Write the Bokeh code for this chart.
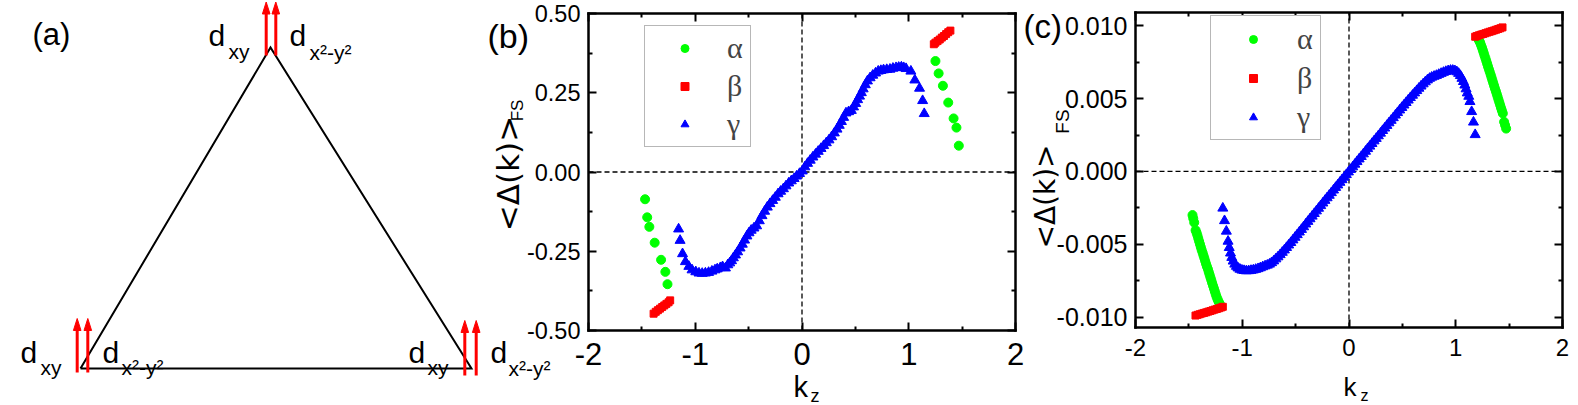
import math
from bokeh.plotting import figure
from bokeh.models import (Range1d, LinearAxis, FixedTicker, NumeralTickFormatter,
                          Label, Legend, LegendItem)
from bokeh.embed import file_html
from bokeh.resources import INLINE

# ---------------- data: panel (b) ----------------
alpha_b_kz = [-1.47, -1.45, -1.43, -1.38, -1.32, -1.28, -1.26,
              1.25, 1.28, 1.32, 1.37, 1.42, 1.447, 1.469]
alpha_b_gap = [-0.086, -0.143, -0.173, -0.223, -0.277, -0.315, -0.354,
               0.350, 0.311, 0.272, 0.219, 0.169, 0.140, 0.083]
beta_b_kz = [-1.39, -1.37, -1.35, -1.33, -1.31, -1.29, -1.27, -1.25, -1.235,
             1.235, 1.25, 1.27, 1.29, 1.31, 1.33, 1.35, 1.37, 1.39]
beta_b_gap = [-0.447, -0.441, -0.436, -0.431, -0.426, -0.421, -0.416, -0.411, -0.405,
              0.403, 0.408, 0.413, 0.418, 0.424, 0.429, 0.435, 0.441, 0.446]
gamma_b_kz = [-1.156, -1.142, -1.119, -1.092, -1.060, -1.030, -0.995, -0.965, -0.935, -0.905,
              -0.875, -0.844, -0.815, -0.794, -0.765, -0.744, -0.717, -0.695, -0.677, -0.660,
              -0.643, -0.623, -0.603, -0.580, -0.559, -0.538, -0.516, -0.496, -0.476, -0.450,
              -0.425, -0.400, -0.375, -0.350, -0.325, -0.300, -0.275, -0.250, -0.224, -0.200,
              -0.174, -0.150, -0.124, -0.100, -0.074, -0.050, -0.023, 0.003, 0.027, 0.052,
              0.077, 0.102, 0.127, 0.152, 0.178, 0.203, 0.228, 0.253, 0.278, 0.303,
              0.328, 0.349, 0.369, 0.390, 0.412, 0.437, 0.462, 0.483, 0.503, 0.521,
              0.539, 0.556, 0.573, 0.593, 0.613, 0.638, 0.663, 0.689, 0.714, 0.739,
              0.764, 0.794, 0.824, 0.852, 0.881, 0.906, 0.931, 0.953, 0.975, 1.020,
              1.057, 1.101, 1.130, 1.145]
gamma_b_gap = [-0.180, -0.216, -0.258, -0.283, -0.298, -0.309, -0.315, -0.319, -0.320, -0.319,
               -0.317, -0.313, -0.309, -0.306, -0.302, -0.299, -0.303, -0.293, -0.287, -0.280,
               -0.271, -0.262, -0.252, -0.240, -0.228, -0.215, -0.202, -0.192, -0.184, -0.177,
               -0.170, -0.154, -0.138, -0.124, -0.111, -0.100, -0.090, -0.080, -0.069, -0.061,
               -0.053, -0.044, -0.035, -0.028, -0.021, -0.013, -0.005, 0.003, 0.016, 0.027,
               0.037, 0.047, 0.056, 0.065, 0.074, 0.083, 0.092, 0.101, 0.111, 0.123,
               0.135, 0.147, 0.159, 0.172, 0.186, 0.190, 0.194, 0.205, 0.216, 0.228,
               0.239, 0.250, 0.262, 0.275, 0.287, 0.297, 0.305, 0.312, 0.318, 0.320,
               0.322, 0.323, 0.324, 0.327, 0.329, 0.330, 0.331, 0.329, 0.326, 0.318,
               0.290, 0.264, 0.225, 0.184]

# ---------------- data: panel (c) ----------------
alpha_c_kz = [-1.466, -1.459, -1.450, -1.437, -1.428, -1.420, -1.412, -1.404, -1.396, -1.388,
              -1.380, -1.371, -1.363, -1.355, -1.347, -1.339, -1.331, -1.322, -1.314, -1.306,
              -1.298, -1.290, -1.282, -1.273, -1.265, -1.257, -1.249, -1.241, -1.232, -1.224,
              -1.216, -1.208,
              1.212, 1.220, 1.228, 1.236, 1.245, 1.253, 1.261, 1.269, 1.278, 1.286,
              1.294, 1.302, 1.310, 1.318, 1.327, 1.335, 1.343, 1.351, 1.359, 1.367,
              1.376, 1.384, 1.392, 1.400, 1.408, 1.416, 1.424, 1.432, 1.441, 1.453,
              1.462, 1.472]
alpha_c_gap = [-0.00299, -0.00322, -0.00350, -0.00403, -0.00420, -0.00438, -0.00459, -0.00479, -0.00499, -0.00519,
               -0.00539, -0.00558, -0.00577, -0.00595, -0.00615, -0.00634, -0.00652, -0.00669, -0.00689, -0.00708,
               -0.00727, -0.00745, -0.00765, -0.00785, -0.00803, -0.00822, -0.00841, -0.00859, -0.00875, -0.00889,
               -0.00901, -0.00912,
               0.00907, 0.00896, 0.00884, 0.00868, 0.00851, 0.00833, 0.00815, 0.00796, 0.00777, 0.00758,
               0.00739, 0.00720, 0.00702, 0.00684, 0.00664, 0.00645, 0.00626, 0.00607, 0.00588, 0.00569,
               0.00550, 0.00531, 0.00512, 0.00493, 0.00474, 0.00455, 0.00436, 0.00418, 0.00398, 0.00340,
               0.00318, 0.00294]
beta_c_kz = [-1.438, -1.418, -1.398, -1.378, -1.358, -1.338, -1.318, -1.298, -1.278, -1.258,
             -1.238, -1.218, -1.198, -1.182,
             1.182, 1.198, 1.218, 1.238, 1.258, 1.278, 1.298, 1.318, 1.338, 1.358,
             1.378, 1.398, 1.418, 1.438]
beta_c_gap = [-0.00988, -0.00983, -0.00979, -0.00974, -0.00970, -0.00966, -0.00961, -0.00957, -0.00952, -0.00947,
              -0.00943, -0.00938, -0.00933, -0.00928,
              0.00924, 0.00929, 0.00934, 0.00939, 0.00943, 0.00948, 0.00953, 0.00958, 0.00962, 0.00967,
              0.00972, 0.00977, 0.00982, 0.00988]
gamma_c_kz_neg = [-1.182, -1.166, -1.149, -1.133, -1.122, -1.110, -1.098, -1.085, -1.070, -1.055,
                  -1.040, -1.022, -1.003, -0.983, -0.962, -0.940, -0.918, -0.896, -0.874, -0.852,
                  -0.830, -0.808, -0.786, -0.765, -0.745, -0.725, -0.705, -0.685, -0.665, -0.645,
                  -0.625, -0.605, -0.585, -0.565, -0.545, -0.525, -0.505, -0.485, -0.465, -0.445,
                  -0.425, -0.405, -0.385, -0.365, -0.345, -0.325, -0.305, -0.285, -0.265, -0.245,
                  -0.225, -0.205, -0.185, -0.165, -0.145, -0.125, -0.105, -0.085, -0.065, -0.045,
                  -0.025, -0.005]
gamma_c_gap_neg = [-0.00252, -0.00338, -0.00410, -0.00479, -0.00522, -0.00560, -0.00590, -0.00615, -0.00636, -0.00651,
                   -0.00662, -0.00671, -0.00677, -0.00680, -0.00682, -0.00681, -0.00679, -0.00676, -0.00672, -0.00667,
                   -0.00661, -0.00654, -0.00648, -0.00643, -0.00636, -0.00626, -0.00614, -0.00600, -0.00586, -0.00571,
                   -0.00555, -0.00539, -0.00522, -0.00505, -0.00488, -0.00470, -0.00452, -0.00434, -0.00416, -0.00398,
                   -0.00380, -0.00361, -0.00343, -0.00325, -0.00307, -0.00289, -0.00271, -0.00253, -0.00235, -0.00217,
                   -0.00199, -0.00181, -0.00164, -0.00146, -0.00128, -0.00110, -0.00093, -0.00075, -0.00057, -0.00040,
                   -0.00022, -0.00004]
gamma_c_kz_pos = [0.015, 0.035, 0.055, 0.075, 0.095, 0.115, 0.135, 0.155, 0.175, 0.195,
                  0.215, 0.235, 0.255, 0.275, 0.295, 0.315, 0.335, 0.355, 0.375, 0.395,
                  0.415, 0.435, 0.455, 0.475, 0.495, 0.515, 0.535, 0.555, 0.575, 0.595,
                  0.615, 0.635, 0.655, 0.675, 0.695, 0.715, 0.735, 0.755, 0.775, 0.797,
                  0.819, 0.841, 0.863, 0.885, 0.907, 0.929, 0.951, 0.972, 0.992, 1.010,
                  1.027, 1.043, 1.058, 1.072, 1.085, 1.097, 1.108, 1.122, 1.133, 1.149,
                  1.166, 1.182]
gamma_c_gap_pos = [0.00013, 0.00031, 0.00049, 0.00067, 0.00085, 0.00102, 0.00120, 0.00138, 0.00156, 0.00173,
                   0.00191, 0.00209, 0.00226, 0.00244, 0.00262, 0.00280, 0.00297, 0.00315, 0.00333, 0.00350,
                   0.00368, 0.00386, 0.00403, 0.00421, 0.00438, 0.00455, 0.00472, 0.00489, 0.00506, 0.00522,
                   0.00538, 0.00554, 0.00570, 0.00585, 0.00600, 0.00614, 0.00627, 0.00638, 0.00646, 0.00652,
                   0.00658, 0.00665, 0.00672, 0.00679, 0.00685, 0.00690, 0.00693, 0.00693, 0.00690, 0.00683,
                   0.00672, 0.00657, 0.00638, 0.00616, 0.00592, 0.00566, 0.00538, 0.00515, 0.00479, 0.00410,
                   0.00338, 0.00252]
gamma_c_kz = gamma_c_kz_neg + gamma_c_kz_pos
gamma_c_gap = gamma_c_gap_neg + gamma_c_gap_pos

series_labels = ["\u03b1", "\u03b2", "\u03b3"]
series_colors = ["#00FF00", "#FF0000", "#0000FF"]
series_markers = ["circle", "square", "triangle"]

# axis limits and ticks
b_xlim, b_ylim = (-2, 2), (-0.5, 0.5)
c_xlim, c_ylim = (-2, 2), (-0.0107, 0.0109)
x_major, x_minor = [-2, -1, 0, 1, 2], [-1.5, -0.5, 0.5, 1.5]
b_y_major, b_y_minor = [-0.5, -0.25, 0, 0.25, 0.5], [-0.375, -0.125, 0.125, 0.375]
c_y_major, c_y_minor = [-0.01, -0.005, 0, 0.005, 0.01], [-0.0075, -0.0025, 0.0025, 0.0075]

# ---------------- layout (page pixels) ----------------
X0, X1, Y0, Y1 = 0, 1578, 0, 405          # drawable page area
B_BOX = (588, 1015, 13, 330)              # left, right, top, bottom of panel (b)
C_BOX = (1135, 1562, 12, 327)             # panel (c)

# schematic (a)
triangle_x = [80, 270, 471, 80]
triangle_y = [368, 47, 368, 368]
arrow_x = [265.7, 275.3, 76.7, 87.3, 464.3, 475.7]
arrow_base_y = [55, 55, 372, 372, 375, 375]
arrow_tip_y = [1.5, 1.5, 318, 318, 320, 320]
HEAD_LEN, HEAD_HALF = 12, 3.8

FONT = "Liberation Sans"
SERIF = "Liberation Serif"


def xrange_for(lim, box):
    s = (lim[1] - lim[0]) / (box[1] - box[0])
    return Range1d(lim[0] - (box[0] - X0) * s, lim[1] + (X1 - box[1]) * s)


def yrange_for(lim, box):
    s = (lim[1] - lim[0]) / (box[3] - box[2])
    return Range1d(lim[0] - (Y1 - box[3]) * s, lim[1] + (box[2] - Y0) * s)


p = figure(width=X1 - X0, height=Y1 - Y0, x_range=Range1d(X0, X1), y_range=Range1d(Y1, Y0),
           min_border=0, toolbar_location=None, output_backend="svg",
           x_axis_location=None, y_axis_location=None, outline_line_color=None)
p.grid.visible = False
p.extra_x_ranges = {"xb": xrange_for(b_xlim, B_BOX), "xc": xrange_for(c_xlim, C_BOX)}
p.extra_y_ranges = {"yb": yrange_for(b_ylim, B_BOX), "yc": yrange_for(c_ylim, C_BOX)}

# ---------------- panel (a) ----------------
p.line(triangle_x, triangle_y, line_color="black", line_width=2, line_join="miter")
p.segment(x0=arrow_x, y0=arrow_base_y, x1=arrow_x, y1=[t + HEAD_LEN - 1 for t in arrow_tip_y],
          line_color="red", line_width=3)
p.patches(xs=[[x - HEAD_HALF, x, x + HEAD_HALF] for x in arrow_x],
          ys=[[t + HEAD_LEN, t, t + HEAD_LEN] for t in arrow_tip_y],
          fill_color="red", line_color="red", line_width=1)

texts = [  # text, left x, baseline y, size
    ("(a)", 32, 34, 31),
    ("d", 208, 35, 30), ("xy", 228, 51, 21),
    ("d", 289, 35, 30), ("x\u00b2-y\u00b2", 309, 52, 21),
    ("d", 20, 352, 30), ("xy", 40, 367, 21),
    ("d", 102, 352, 30), ("x\u00b2-y\u00b2", 121, 367, 21),
    ("d", 408, 352, 30), ("xy", 427, 367, 21),
    ("d", 490, 352, 30), ("x\u00b2-y\u00b2", 508, 368, 21),
    ("(b)", 487, 35, 34), ("k", 793, 386, 29), ("z", 810, 395, 18),
    ("(c)", 1023, 26, 33), ("k", 1343, 386, 26), ("z", 1360, 395, 16),
]
for t, x, y, s in texts:
    p.add_layout(Label(x=x, y=y, text=t, text_font=FONT, text_font_size=f"{s}px",
                       text_align="left", text_baseline="alphabetic", text_color="black"))

rot_texts = [  # text, center x, center y, size, font
    ("<\u0394(k)>", 507, 173, 31, "DejaVu Sans"), ("FS", 517, 110, 17, FONT),
    ("<\u0394(k)>", 1045, 196, 28, "DejaVu Sans"), ("FS", 1062, 121, 19, FONT),
]
for t, x, y, s, f in rot_texts:
    p.add_layout(Label(x=x, y=y, text=t, angle=math.pi / 2, text_font=f, text_font_size=f"{s}px",
                       text_align="center", text_baseline="middle", text_color="black"))


def add_axes(xr, yr, xlim, ylim, ymaj, ymin, yfmt, xsize, ysize, xstand, ystand):
    xt = FixedTicker(ticks=x_major, minor_ticks=x_minor)
    yt = FixedTicker(ticks=ymaj, minor_ticks=ymin)
    specs = [("below", ylim[0], xlim, xt, "0", xsize, xstand, True),
             ("above", ylim[1], xlim, xt, "0", xsize, xstand, False),
             ("left", xlim[0], ylim, yt, yfmt, ysize, ystand, True),
             ("right", xlim[1], ylim, yt, yfmt, ysize, ystand, False)]
    for side, loc, bnds, tk, fmt, size, stand, show in specs:
        ax = LinearAxis(x_range_name=xr, y_range_name=yr, fixed_location=loc, bounds=bnds,
                        ticker=tk, formatter=NumeralTickFormatter(format=fmt),
                        major_tick_in=8, major_tick_out=0, minor_tick_in=4, minor_tick_out=0,
                        axis_line_width=2.5, axis_line_color="black", axis_line_cap="square",
                        major_tick_line_width=2, minor_tick_line_width=2,
                        major_tick_line_color="black", minor_tick_line_color="black",
                        major_label_text_font=FONT, major_label_text_font_size=f"{size}px",
                        major_label_standoff=stand,
                        major_label_text_color="black" if show else None)
        p.add_layout(ax, side)
    # dashed zero lines
    p.segment(x0=[0, xlim[0]], y0=[ylim[0], 0], x1=[0, xlim[1]], y1=[ylim[1], 0],
              x_range_name=xr, y_range_name=yr, line_color="black", line_width=1.3, line_dash="5 3")


def add_series(xr, yr, data, sizes, loc, padding, glyph_w, standoff, row_h):
    items = []
    for (xs, ys), lab, col, mk, sz in zip(data, series_labels, series_colors, series_markers, sizes):
        r = p.scatter(xs, ys, marker=mk, size=sz, fill_color=col, line_color=col,
                      x_range_name=xr, y_range_name=yr)
        items.append(LegendItem(label=lab, renderers=[r]))
    lg = Legend(items=items, location=loc, margin=0, padding=padding, spacing=0,
                glyph_width=glyph_w, glyph_height=20, label_height=row_h, label_standoff=standoff,
                label_text_font=SERIF, label_text_font_size="30px",
                border_line_color="#707070", border_line_width=1.2, background_fill_alpha=1)
    p.add_layout(lg)


# ---------------- panel (b) ----------------
add_axes("xb", "yb", b_xlim, b_ylim, b_y_major, b_y_minor, "0.00", 31, 23.5, 12, 8)
add_series("xb", "yb", [(alpha_b_kz, alpha_b_gap), (beta_b_kz, beta_b_gap), (gamma_b_kz, gamma_b_gap)],
           [9, 7, 10], (644 - X0, Y1 - 147), 3, 73, 6, 38)

# ---------------- panel (c) ----------------
add_axes("xc", "yc", c_xlim, c_ylim, c_y_major, c_y_minor, "0.000", 24, 25, 11, 8)
add_series("xc", "yc", [(alpha_c_kz, alpha_c_gap), (beta_c_kz, beta_c_gap), (gamma_c_kz, gamma_c_gap)],
           [9, 7, 10], (1210 - X0, Y1 - 140), 3, 78, 5, 39)

open("out.html", "w").write(file_html(p, INLINE))
